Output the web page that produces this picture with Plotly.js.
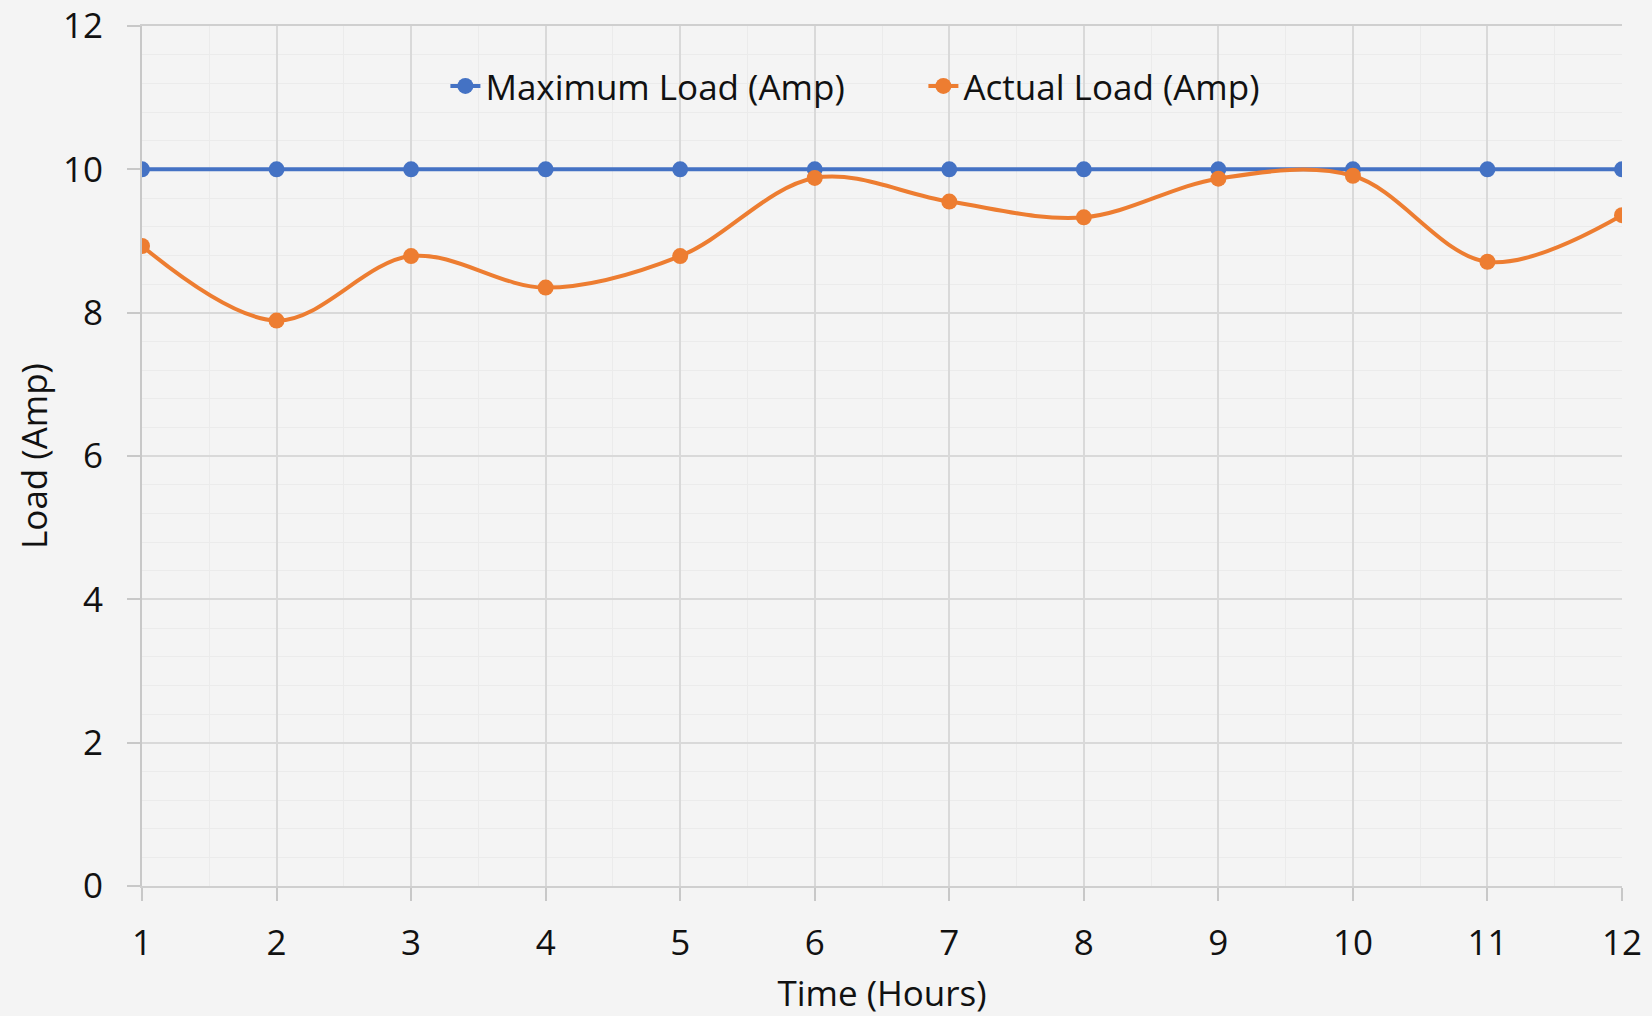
<!DOCTYPE html>
<html>
<head>
<meta charset="utf-8">
<script src="https://cdn.plot.ly/plotly-3.0.1.min.js"></script>
<style>html,body{margin:0;padding:0;background:#f4f4f4;}#chart{width:1652px;height:1016px;}</style>
</head>
<body>
<div id="chart"></div>
<script>
const hours = [1, 2, 3, 4, 5, 6, 7, 8, 9, 10, 11, 12];
const maximumLoad = [10, 10, 10, 10, 10, 10, 10, 10, 10, 10, 10, 10];
const actualLoad = [8.93, 7.89, 8.79, 8.35, 8.79, 9.88, 9.55, 9.33, 9.87, 9.91, 8.71, 9.36];
const yTicks = [0, 2, 4, 6, 8, 10, 12];
const seriesNames = ['Maximum Load (Amp)', 'Actual Load (Amp)'];
const xTitle = 'Time (Hours)';
const yTitle = 'Load (Amp)';

const FONT = 'Open Sans, Noto Sans, sans-serif';
const FS = 35;
const traces = [
  {
    x: hours, y: maximumLoad, name: seriesNames[0], type: 'scatter', mode: 'lines+markers',
    line: {color: '#4472C4', width: 4},
    marker: {color: '#4472C4', size: 16}
  },
  {
    x: hours, y: actualLoad, name: seriesNames[1], type: 'scatter', mode: 'lines+markers',
    line: {color: '#ED7D31', width: 4, shape: 'spline', smoothing: 1},
    marker: {color: '#ED7D31', size: 16}
  }
];

const layout = {
  width: 1652, height: 1016,
  paper_bgcolor: '#f4f4f4', plot_bgcolor: '#f4f4f4',
  margin: {l: 142, r: 30, t: 26, b: 130},
  font: {family: FONT, size: FS, color: '#111111'},
  showlegend: true,
  legend: {
    orientation: 'h', x: 0.205, xanchor: 'left', y: 0.93, yanchor: 'middle',
    bgcolor: 'rgba(0,0,0,0)', font: {family: FONT, size: FS, color: '#111111'},
    itemwidth: 30, tracegroupgap: 0, entrywidth: 433, entrywidthmode: 'pixels'
  },
  xaxis: {
    range: [1, 12], tickmode: 'array', tickvals: hours, ticktext: hours.map(String),
    showgrid: true, gridcolor: '#d9d9d9', gridwidth: 2,
    minor: {dtick: 0.5, tick0: 1, showgrid: true, gridcolor: '#ebebeb', gridwidth: 1, ticks: ''},
    showline: true, mirror: true, linecolor: '#cfcfcf', linewidth: 2,
    ticks: 'outside', ticklen: 13, tickwidth: 2, tickcolor: '#c8c8c8',
    ticklabelstandoff: 12, ticklabeloverflow: 'allow',
    zeroline: false,
    title: {text: xTitle, font: {family: FONT, size: FS, color: '#111111'}, standoff: 17}
  },
  yaxis: {
    range: [0, 12], tickmode: 'array', tickvals: yTicks, ticktext: yTicks.map(String),
    showgrid: true, gridcolor: '#d9d9d9', gridwidth: 2,
    minor: {dtick: 0.4, tick0: 0, showgrid: true, gridcolor: '#ebebeb', gridwidth: 1, ticks: ''},
    showline: true, linecolor: '#c8c8c8', linewidth: 2,
    ticks: 'outside', ticklen: 13, tickwidth: 2, tickcolor: '#c8c8c8',
    ticklabelstandoff: 17, ticklabeloverflow: 'allow',
    zeroline: false,
    title: {text: yTitle, font: {family: FONT, size: FS, color: '#111111'}, standoff: 5}
  }
};

Plotly.newPlot('chart', traces, layout, {displayModeBar: false, staticPlot: true});
</script>
</body>
</html>
